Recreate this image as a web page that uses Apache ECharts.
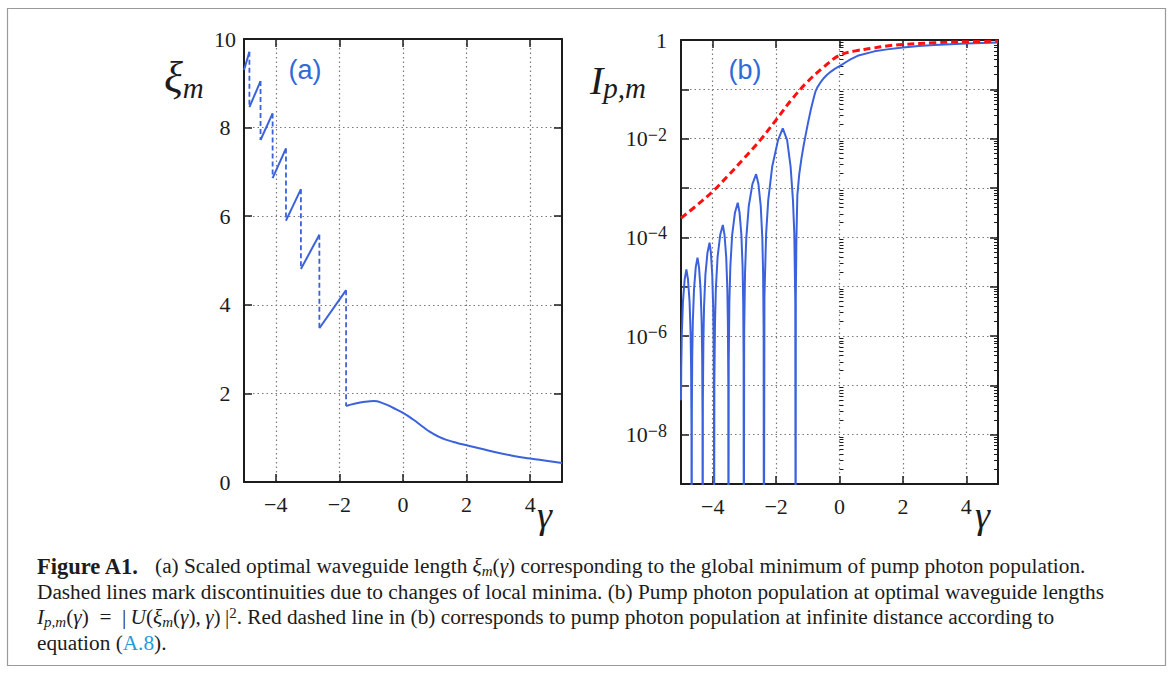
<!DOCTYPE html>
<html>
<head>
<meta charset="utf-8">
<script src="https://cdn.jsdelivr.net/npm/echarts@6/dist/echarts.min.js"></script>
<style>
  html, body { margin: 0; padding: 0; background: #fff; }
  #chart { width: 1174px; height: 673px; }
</style>
</head>
<body>
<div id="chart"></div>
<script>
// ---- panel (a): optimal length xi_m(gamma), a sawtooth then a smooth tail
const gammaJumps = [-4.83, -4.48, -4.10, -3.68, -3.21, -2.63, -1.79];
const xiAtStart = 9.30;                       // value at gamma = -5
const xiBeforeJump = [9.71, 9.05, 8.32, 7.53, 6.61, 5.58, 4.33];
const xiAfterJump = [8.46, 7.72, 6.86, 5.90, 4.81, 3.47, 1.715];
const tailGamma = [-1.79, -1.5, -1.2, -0.93, -0.6, -0.3, 0, 0.32, 0.6, 0.85, 1.1, 1.37, 1.7, 2.0, 2.74, 3.4, 4.0, 4.5, 5.0];
const tailXi = [1.715, 1.77, 1.81, 1.83, 1.77, 1.67, 1.56, 1.41, 1.26, 1.13, 1.03, 0.95, 0.88, 0.83, 0.70, 0.60, 0.53, 0.48, 0.43];

// ---- panel (b): I_p,m(gamma), given as log10 of the value (zeros go far below the axis)
const ipGamma = [
  -5.000, -4.992, -4.974, -4.938, -4.884, -4.830, -4.780, -4.730, -4.697, -4.681, -4.669, -4.664,
  -4.658, -4.646, -4.627, -4.590, -4.535, -4.480, -4.431, -4.382, -4.349, -4.332, -4.321, -4.316,
  -4.310, -4.294, -4.273, -4.230, -4.165, -4.100, -4.057, -4.014, -3.985, -3.970, -3.960, -3.956,
  -3.948, -3.928, -3.901, -3.846, -3.763, -3.680, -3.627, -3.574, -3.538, -3.521, -3.508, -3.503,
  -3.494, -3.474, -3.444, -3.386, -3.298, -3.210, -3.153, -3.095, -3.057, -3.038, -3.025, -3.019,
  -3.007, -2.980, -2.941, -2.863, -2.747, -2.630, -2.557, -2.484, -2.435, -2.410, -2.393, -2.386,
  -2.368, -2.314, -2.249, -2.124, -1.939, -1.790, -1.652, -1.542, -1.468, -1.426, -1.395, -1.383,
  -1.378, -1.360, -1.330, -1.270, -1.200, -1.140, -1.090, -1.000, -0.900, -0.800, -0.750, -0.700,
  -0.600, -0.490, -0.400, -0.270, -0.150, 0.000, 0.300, 0.570, 1.100, 1.500, 2.000, 2.500,
  3.000, 4.000, 5.000
];
const ipLog10 = [
  -7.30, -6.65, -5.95, -5.30, -4.85, -4.65, -4.85, -5.30, -5.95, -6.65, -7.85, -12,
  -7.61, -6.41, -5.71, -5.06, -4.61, -4.41, -4.61, -5.06, -5.71, -6.41, -7.61, -12,
  -7.31, -6.11, -5.41, -4.76, -4.31, -4.11, -4.31, -4.76, -5.41, -6.11, -7.31, -12,
  -6.95, -5.75, -5.05, -4.40, -3.95, -3.75, -3.95, -4.40, -5.05, -5.75, -6.95, -12,
  -6.50, -5.30, -4.60, -3.95, -3.50, -3.30, -3.50, -3.95, -4.60, -5.30, -6.50, -12,
  -5.92, -4.72, -4.02, -3.37, -2.92, -2.72, -2.92, -3.37, -4.02, -4.72, -5.92, -12,
  -5.20, -3.92, -3.25, -2.57, -2.03, -1.79, -2.03, -2.57, -3.25, -3.92, -5.29, -12,
  -5.20, -4.05, -3.15, -2.72, -2.40, -2.17, -2.00, -1.70, -1.40, -1.14, -1.03, -0.96,
  -0.86, -0.77, -0.71, -0.64, -0.585, -0.53, -0.41, -0.32, -0.23, -0.19, -0.15, -0.12,
  -0.10, -0.07, -0.05
];
// red dashed: population at infinite distance
const limitGamma = [-5, -4.5, -4, -3.5, -3, -2.5, -2, -1.5, -1, -0.5, 0, 0.5, 1, 1.5, 2, 3, 4, 5];
const limitLog10 = [-3.61, -3.35, -3.07, -2.74, -2.39, -2.03, -1.62, -1.20, -0.84, -0.55, -0.31, -0.22, -0.17, -0.12, -0.09, -0.055, -0.035, -0.025];

const gammaTicks = [-4, -2, 0, 2, 4];

const serif = '"Liberation Serif", "DejaVu Serif", serif';
const ink = '#1c1c1c';
const blue = '#3b62dc';
const red = '#ff1010';
const dotted = { type: [1.5, 3], color: '#7a7a7a', width: 1.2 };
const frameLine = { show: true, onZero: false, lineStyle: { color: ink, width: 2 } };

const signed = v => (v < 0 ? '\u2212' + (-v) : String(v));

function xAxisPair(gi) {
  const base = {
    type: 'value', gridIndex: gi, min: -5, max: 5,
    axisLine: frameLine,
    axisTick: { show: true, inside: true, length: 8, customValues: gammaTicks, lineStyle: { color: ink, width: 1.5 } }
  };
  return [
    Object.assign({}, base, {
      position: 'bottom',
      axisLabel: { show: true, customValues: gammaTicks, margin: 11, formatter: signed, fontFamily: serif, fontSize: 22, color: ink },
      splitLine: { show: true, lineStyle: dotted }
    }),
    Object.assign({}, base, {
      position: 'top',
      axisLabel: { show: false },
      splitLine: { show: false }
    })
  ];
}

// minor ticks of the log axis, in decades
const minorExp = [];
for (let e = -9; e < 0; e++) {
  for (let k = 2; k <= 9; k++) minorExp.push(e + Math.log10(k));
}

function expLabel(v) {
  if (v === 0) return '{n|1}';
  if (v % 2 !== 0) return '';
  return '{n|10}{s|\u2212' + (-v) + '}';
}

function decadeAxis(pos, withLabels) {
  return {
    type: 'value', gridIndex: 1, position: pos, min: -9, max: 0, interval: 1,
    axisLine: frameLine,
    axisTick: { show: true, inside: true, length: 8, lineStyle: { color: ink, width: 1.5 } },
    axisLabel: withLabels ? {
      show: true, margin: 14, align: 'right', formatter: expLabel,
      rich: {
        n: { fontFamily: serif, fontSize: 22, color: ink, lineHeight: 26 },
        s: { fontFamily: serif, fontSize: 18, color: ink, lineHeight: 21, verticalAlign: 'top' }
      }
    } : { show: false },
    splitLine: withLabels ? { show: true, lineStyle: dotted } : { show: false }
  };
}

function minorAxis(pos) {
  return {
    type: 'value', gridIndex: 1, position: pos, min: -9, max: 0,
    axisLine: { show: false },
    axisTick: { show: true, inside: true, length: 4, customValues: minorExp, lineStyle: { color: ink, width: 1 } },
    axisLabel: { show: false },
    splitLine: { show: false }
  };
}

// sawtooth pieces and the dashed jumps
const sawSeries = [];
gammaJumps.forEach((g, i) => {
  const start = i === 0 ? [-5, xiAtStart] : [gammaJumps[i - 1], xiAfterJump[i - 1]];
  sawSeries.push({
    type: 'line', xAxisIndex: 0, yAxisIndex: 0, showSymbol: false, animation: false,
    data: [start, [g, xiBeforeJump[i]]],
    lineStyle: { color: blue, width: 2 }
  });
  sawSeries.push({
    type: 'line', xAxisIndex: 0, yAxisIndex: 0, showSymbol: false, animation: false,
    data: [[g, xiBeforeJump[i]], [g, xiAfterJump[i]]],
    lineStyle: { color: blue, width: 1.8, type: [5, 3] }
  });
});

const chart = echarts.init(document.getElementById('chart'), null, { renderer: 'svg' });

const option = {
  backgroundColor: '#fff',
  animation: false,
  grid: [
    { left: 244, top: 39, width: 318, height: 443, outerBoundsMode: 'none' },
    { left: 681, top: 40, width: 317, height: 444, outerBoundsMode: 'none' }
  ],
  xAxis: [...xAxisPair(0), ...xAxisPair(1)],
  yAxis: [
    {
      type: 'value', gridIndex: 0, position: 'left', min: 0, max: 10, interval: 2,
      axisLine: frameLine,
      axisTick: { show: true, inside: true, length: 8, lineStyle: { color: ink, width: 1.5 } },
      axisLabel: { show: true, margin: 19, align: 'center', fontFamily: serif, fontSize: 22, color: ink },
      splitLine: { show: true, lineStyle: dotted }
    },
    {
      type: 'value', gridIndex: 0, position: 'right', min: 0, max: 10, interval: 2,
      axisLine: frameLine,
      axisTick: { show: true, inside: true, length: 8, lineStyle: { color: ink, width: 1.5 } },
      axisLabel: { show: false },
      splitLine: { show: false }
    },
    // log axis that carries the data of panel (b)
    { type: 'log', gridIndex: 1, position: 'left', min: 1e-9, max: 1, logBase: 10, show: false },
    decadeAxis('left', true),
    minorAxis('left'),
    decadeAxis('right', false),
    minorAxis('right')
  ],
  series: [
    ...sawSeries,
    {
      type: 'line', xAxisIndex: 0, yAxisIndex: 0, showSymbol: false, smooth: true,
      data: tailGamma.map((g, i) => [g, tailXi[i]]),
      lineStyle: { color: blue, width: 2 }
    },
    {
      type: 'line', xAxisIndex: 2, yAxisIndex: 2, showSymbol: false, clip: true,
      data: ipGamma.map((g, i) => [g, Math.pow(10, ipLog10[i])]),
      lineStyle: { color: blue, width: 2 }
    },
    {
      type: 'line', xAxisIndex: 2, yAxisIndex: 2, showSymbol: false, smooth: 0.4, clip: true,
      data: limitGamma.map((g, i) => [g, Math.pow(10, limitLog10[i])]),
      lineStyle: { color: red, width: 3, type: [7, 4] }
    }
  ],
  graphic: [
    {
      type: 'rect', silent: true,
      shape: { x: 7.5, y: 8.5, width: 1158, height: 657 },
      style: { fill: 'none', stroke: '#9a9a9a', lineWidth: 1.2 }
    },
    { type: 'text', x: 305, y: 70, style: { text: '(a)', fontFamily: '"Liberation Sans", Arial, sans-serif', fontSize: 27, fill: '#2f6bd9', textAlign: 'center', textVerticalAlign: 'middle' } },
    { type: 'text', x: 745, y: 70, style: { text: '(b)', fontFamily: '"Liberation Sans", Arial, sans-serif', fontSize: 27, fill: '#2f6bd9', textAlign: 'center', textVerticalAlign: 'middle' } },
    {
      type: 'text', x: 164, y: 77,
      style: {
        text: '{v|\u03be}{s|m}', textVerticalAlign: 'middle',
        rich: {
          v: { fontFamily: serif, fontStyle: 'italic', fontSize: 44, fill: ink, lineHeight: 50 },
          s: { fontFamily: serif, fontStyle: 'italic', fontSize: 29, fill: ink, lineHeight: 37, verticalAlign: 'bottom' }
        }
      }
    },
    {
      type: 'text', x: 590, y: 80,
      style: {
        text: '{v|I}{s|p,m}', textVerticalAlign: 'middle',
        rich: {
          v: { fontFamily: serif, fontStyle: 'italic', fontSize: 40, fill: ink, lineHeight: 44 },
          s: { fontFamily: serif, fontStyle: 'italic', fontSize: 29, fill: ink, lineHeight: 29, verticalAlign: 'bottom' }
        }
      }
    },
    { type: 'text', x: 537, y: 515, style: { text: '\u03b3', fontFamily: serif, fontStyle: 'italic', fontSize: 38, fill: ink, textVerticalAlign: 'middle' } },
    { type: 'text', x: 975, y: 515, style: { text: '\u03b3', fontFamily: serif, fontStyle: 'italic', fontSize: 38, fill: ink, textVerticalAlign: 'middle' } }
  ]
};

// caption lines
const capSize = 21.3;
const capRich = {
  b: { fontFamily: serif, fontSize: 22.5, fontWeight: 'bold', fill: ink, lineHeight: 24 },
  i: { fontFamily: serif, fontSize: capSize, fontStyle: 'italic', fill: ink, lineHeight: 24 },
  sub: { fontFamily: serif, fontSize: 15, fontStyle: 'italic', fill: ink, lineHeight: 16, verticalAlign: 'bottom' },
  sup: { fontFamily: serif, fontSize: 15, fill: ink, lineHeight: 16, verticalAlign: 'top' },
  link: { fontFamily: serif, fontSize: capSize, fill: '#1e9be0', lineHeight: 24 }
};
const captionLines = [
  '{b|Figure A1.}   (a) Scaled optimal waveguide length {i|\u03be}{sub|m}({i|\u03b3}) corresponding to the global minimum of pump photon population.',
  'Dashed lines mark discontinuities due to changes of local minima. (b) Pump photon population at optimal waveguide lengths',
  '{i|I}{sub|p,m}({i|\u03b3})\u2002=\u2002|\u2009{i|U}({i|\u03be}{sub|m}({i|\u03b3}),\u2009{i|\u03b3})\u2009|{sup|2}. Red dashed line in (b) corresponds to pump photon population at infinite distance according to',
  'equation ({link|A.8}).'
];
const captionY = [566, 592, 617, 643];
captionLines.forEach((t, i) => {
  option.graphic.push({
    type: 'text', x: 37, y: captionY[i],
    style: { text: t, fontFamily: serif, fontSize: capSize, fill: ink, lineHeight: 24, textVerticalAlign: 'middle', rich: capRich }
  });
});

chart.setOption(option);
</script>
</body>
</html>
